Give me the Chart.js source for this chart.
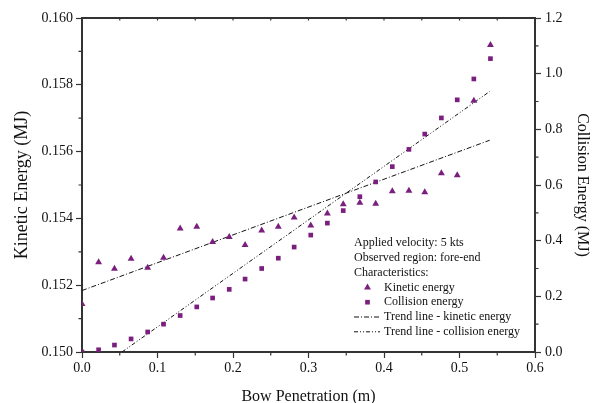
<!DOCTYPE html>
<html>
<head>
<script src="https://cdn.jsdelivr.net/npm/chart.js@4.4.0/dist/chart.umd.min.js"></script>
<title>Kinetic and Collision Energy</title>
<style>body{margin:0;background:#fff;}</style>
</head>
<body>
<canvas id="myChart" width="608" height="403"></canvas>
<script>
// bow penetration (m), shared by both series
var penetration = [0, 0.022, 0.043, 0.065, 0.087, 0.108, 0.130, 0.152, 0.173, 0.195,
    0.216, 0.238, 0.260, 0.281, 0.303, 0.325, 0.346, 0.368, 0.389, 0.411,
    0.433, 0.454, 0.476, 0.497, 0.519, 0.541];
// kinetic energy (MJ), left axis
var kineticEnergy = [0.15144, 0.15269, 0.15249, 0.15279, 0.15252, 0.15282, 0.15370, 0.15375, 0.15329, 0.15344,
    0.15320, 0.15364, 0.15375, 0.15403, 0.15379, 0.15415, 0.15442, 0.15447, 0.15444, 0.15481,
    0.15483, 0.15478, 0.15535, 0.15529, 0.15752, 0.15919];
// collision energy (MJ), right axis
var collisionEnergy = [0.000, 0.008, 0.025, 0.047, 0.072, 0.100, 0.131, 0.162, 0.194, 0.225,
    0.262, 0.300, 0.337, 0.377, 0.420, 0.463, 0.508, 0.558, 0.611, 0.666,
    0.728, 0.783, 0.841, 0.906, 0.981, 1.054];
// trend line end points [x, y]
var kineticTrend = [[0, 0.15184], [0.54, 0.15634]];
var collisionTrend = [[0.053, 0.0], [0.54, 0.936]];

var legendNotes = ['Applied velocity: 5 kts', 'Observed region: fore-end', 'Characteristics:'];
var legendLabels = ['Kinetic energy', 'Collision energy', 'Trend line - kinetic energy', 'Trend line - collision energy'];

var purple = '#7b1f7f';
var serif = '"Liberation Serif", "Times New Roman", serif';

function toPoints(xs, ys) {
    return xs.map(function(x, i) { return {x: x, y: ys[i]}; });
}
function pairs(arr) {
    return arr.map(function(p) { return {x: p[0], y: p[1]}; });
}

// top frame, minor ticks and the boxed-in legend
var extras = {
    id: 'extras',
    afterDraw: function(chart) {
        var ctx = chart.ctx, a = chart.chartArea;
        var sx = chart.scales.x, sy = chart.scales.y, sy1 = chart.scales.y1;
        var v, p;
        ctx.save();
        ctx.strokeStyle = '#333';
        ctx.lineWidth = 2;
        ctx.beginPath();
        ctx.moveTo(a.left - 1, a.top);
        ctx.lineTo(a.right + 1, a.top);
        ctx.stroke();

        ctx.lineWidth = 1.2;
        ctx.beginPath();
        for (v = 0.05; v < 0.6; v += 0.1) {
            p = sx.getPixelForValue(v);
            ctx.moveTo(p, a.bottom); ctx.lineTo(p, a.bottom + 3.5);
        }
        for (v = 0.05; v < 0.59; v += 0.05) {
            p = sx.getPixelForValue(v);
            ctx.moveTo(p, a.top); ctx.lineTo(p, a.top + 2.5);
        }
        for (v = 0.151; v < 0.160; v += 0.002) {
            p = sy.getPixelForValue(v);
            ctx.moveTo(a.left - 3.5, p); ctx.lineTo(a.left, p);
        }
        for (v = 0.1; v < 1.2; v += 0.2) {
            p = sy1.getPixelForValue(v);
            ctx.moveTo(a.right, p); ctx.lineTo(a.right + 3.5, p);
        }
        ctx.stroke();

        // legend
        var lx = 354, ly = 243, lh = 14.8;
        ctx.font = '12px ' + serif;
        ctx.fillStyle = '#111';
        ctx.textBaseline = 'middle';
        ctx.textAlign = 'left';
        legendNotes.forEach(function(t, i) {
            ctx.fillText(t, lx, ly + i * lh);
        });
        legendLabels.forEach(function(t, i) {
            var y = ly + (i + 3) * lh;
            var ds = chart.data.datasets[i];
            if (ds.showLine) {
                ctx.save();
                ctx.strokeStyle = ds.borderColor;
                ctx.lineWidth = ds.borderWidth;
                ctx.setLineDash(ds.borderDash);
                ctx.beginPath();
                ctx.moveTo(lx, y); ctx.lineTo(lx + 26, y);
                ctx.stroke();
                ctx.restore();
            } else {
                ctx.save();
                ctx.fillStyle = ds.backgroundColor;
                Chart.helpers.drawPoint(ctx, {pointStyle: ds.pointStyle, radius: ds.pointRadius, borderWidth: 0, rotation: 0}, lx + 13.5, y);
                ctx.restore();
            }
            ctx.fillStyle = '#111';
            ctx.fillText(t, lx + 30, y);
        });
        ctx.restore();
    }
};

var ctx = document.getElementById('myChart').getContext('2d');
var myChart = new Chart(ctx, {
    type: 'scatter',
    data: {
        datasets: [
            {
                label: legendLabels[0],
                data: toPoints(penetration, kineticEnergy),
                yAxisID: 'y',
                pointStyle: 'triangle',
                pointRadius: 4,
                backgroundColor: purple,
                borderColor: purple,
                borderWidth: 0,
                clip: 0
            },
            {
                label: legendLabels[1],
                data: toPoints(penetration, collisionEnergy),
                yAxisID: 'y1',
                pointStyle: 'rect',
                pointRadius: 3.3,
                backgroundColor: purple,
                borderColor: purple,
                borderWidth: 0,
                clip: 0
            },
            {
                label: legendLabels[2],
                data: pairs(kineticTrend),
                yAxisID: 'y',
                showLine: true,
                pointRadius: 0,
                borderColor: '#111',
                borderWidth: 1,
                borderDash: [5, 2, 1, 2]
            },
            {
                label: legendLabels[3],
                data: pairs(collisionTrend),
                yAxisID: 'y1',
                showLine: true,
                pointRadius: 0,
                borderColor: '#111',
                borderWidth: 1,
                borderDash: [4, 2, 1, 2, 1, 2]
            }
        ]
    },
    options: {
        responsive: false,
        animation: false,
        layout: { padding: { top: 18, left: 0, right: 0, bottom: 0 } },
        plugins: {
            legend: { display: false },
            tooltip: { enabled: false }
        },
        scales: {
            x: {
                type: 'linear',
                min: 0, max: 0.6,
                afterFit: function(s) { s.height = 51; },
                border: { color: '#333', width: 2 },
                grid: { drawOnChartArea: false, tickLength: 6, tickColor: '#333', tickWidth: 1.2 },
                ticks: {
                    stepSize: 0.1, padding: 2, color: '#111',
                    font: { family: serif, size: 14 },
                    callback: function(v) { return v.toFixed(1); }
                },
                title: {
                    display: true, text: 'Bow Penetration (m)', color: '#111',
                    font: { family: serif, size: 16 },
                    padding: { top: 0, bottom: -3 }
                }
            },
            y: {
                position: 'left',
                min: 0.150, max: 0.160,
                afterFit: function(s) { s.width = 82; },
                border: { color: '#333', width: 2 },
                grid: { drawOnChartArea: false, tickLength: 6, tickColor: '#333', tickWidth: 1.2 },
                ticks: {
                    stepSize: 0.002, padding: 3, color: '#111',
                    font: { family: serif, size: 14 },
                    callback: function(v) { return v.toFixed(3); }
                },
                title: {
                    display: true, text: 'Kinetic Energy (MJ)', color: '#111',
                    font: { family: serif, size: 18 },
                    padding: { top: 11, bottom: 0 }
                }
            },
            y1: {
                position: 'right',
                min: 0, max: 1.2,
                afterFit: function(s) { s.width = 73; },
                border: { color: '#333', width: 2 },
                grid: { drawOnChartArea: false, tickLength: 6, tickColor: '#333', tickWidth: 1.2 },
                ticks: {
                    stepSize: 0.2, padding: 4, color: '#111',
                    font: { family: serif, size: 14 },
                    callback: function(v) { return v.toFixed(1); }
                },
                title: {
                    display: true, text: 'Collision Energy (MJ)', color: '#111',
                    font: { family: serif, size: 16 },
                    padding: { top: 16, bottom: 0 }
                }
            }
        }
    },
    plugins: [extras]
});
</script>
</body>
</html>
